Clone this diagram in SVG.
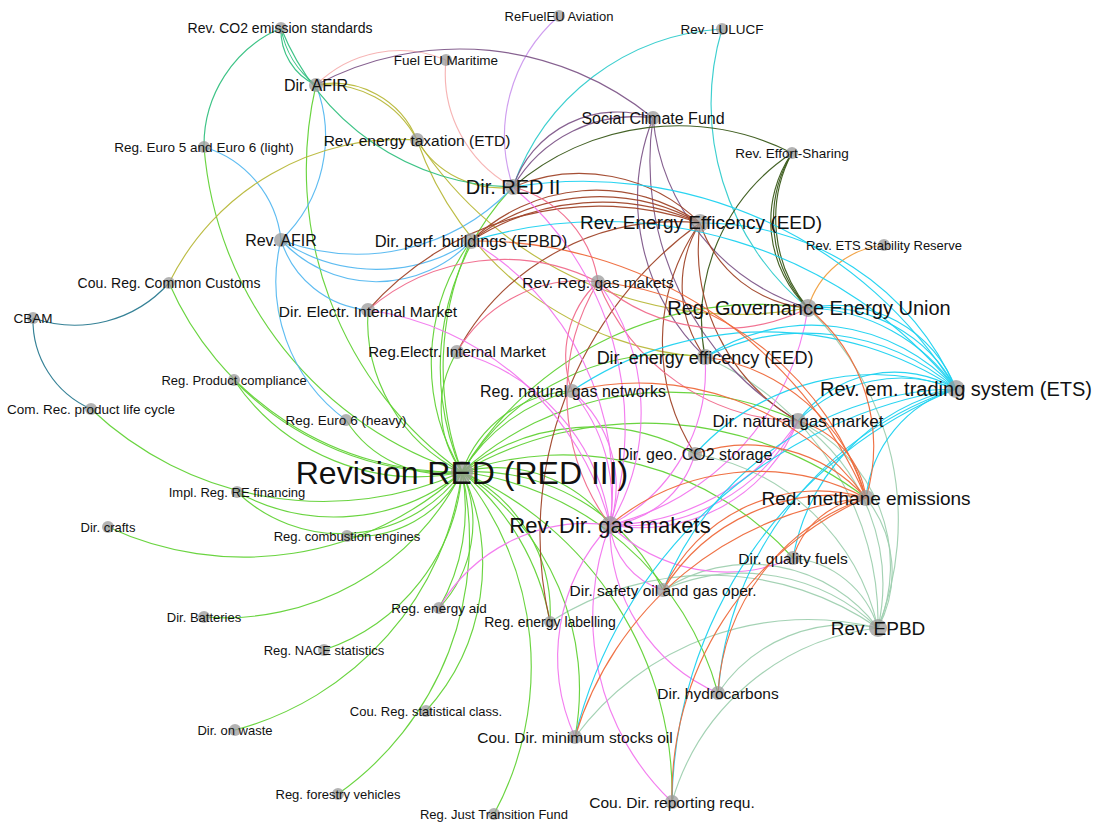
<svg xmlns="http://www.w3.org/2000/svg" width="1094" height="822" viewBox="0 0 1094 822">
<style>
.e path{fill:none;stroke-width:1.15;stroke-opacity:0.95}
.g{stroke:#62d236}.b{stroke:#55b8f0}.o{stroke:#b8b83a}.t{stroke:#33c080}.p{stroke:#f5b0b0}.v{stroke:#cc99ee}.l{stroke:#33cccc}.u{stroke:#80588a}.d{stroke:#3a5a1a}.s{stroke:#f0a040}.c{stroke:#2a7a90}.r{stroke:#a0462a}.k{stroke:#f06c8c}.m{stroke:#f277ee}.y{stroke:#1ed2f0}.f{stroke:#ee6a3c}.h{stroke:#9fd0b0}
.n circle{fill:#999;fill-opacity:0.75}
.n text{font-family:"Liberation Sans",Arial,sans-serif;fill:#111;text-anchor:middle}
</style>
<rect width="1094" height="822" fill="#fff"/>
<g id="connectors" class="e">
<g class="h">
<path d="M663 590A196 196 0 0 1 878 628"/><path d="M663 590A160 160 0 0 1 878 628"/>
<path d="M793 558A99 99 0 0 1 878 628"/>
<path d="M798 421A200 200 0 0 1 878 628"/><path d="M798 421A160 160 0 0 1 878 628"/>
<path d="M808 308A295 295 0 0 1 878 628"/>
<path d="M705 357A289 289 0 0 1 878 628"/>
<path d="M695 454A227 227 0 0 1 878 628"/>
<path d="M550 622A295 295 0 0 1 878 628"/>
<path d="M575 737A290 290 0 0 1 878 628"/>
<path d="M718 693A155 155 0 0 1 878 628"/>
<path d="M672 802A243 243 0 0 1 878 628"/>
<path d="M866 498A118 118 0 0 1 878 628"/>
</g>
<g class="g">
<path d="M462 472A372 372 0 0 1 316 85"/>
<path d="M462 472A373 373 0 0 1 204 147"/>
<path d="M462 472A314 314 0 0 1 169 283"/>
<path d="M462 472A221 221 0 0 1 234 380"/><path d="M462 472A300 300 0 0 1 234 380"/>
<path d="M462 472A339 339 0 0 1 91 409"/>
<path d="M462 472A114 114 0 0 1 346 420"/>
<path d="M462 472A169 169 0 0 1 368 310"/>
<path d="M462 472A108 108 0 0 1 457 352"/>
<path d="M462 472A261 261 0 0 1 513 187"/>
<path d="M462 472A208 208 0 0 1 471 241"/><path d="M462 472A300 300 0 0 1 471 241"/>
<path d="M462 472A203 203 0 0 1 237 492"/><path d="M462 472A150 150 0 0 1 237 492"/>
<path d="M462 472A322 322 0 0 1 108 527"/>
<path d="M462 472A118 118 0 0 1 347 536"/>
<path d="M462 472A266 266 0 0 1 204 617"/>
<path d="M462 472A124 124 0 0 1 439 608"/><path d="M462 472A200 200 0 0 1 439 608"/>
<path d="M462 472A203 203 0 0 1 324 650"/>
<path d="M462 472A309 309 0 0 1 235 730"/>
<path d="M462 472A218 218 0 0 1 426 711"/>
<path d="M462 472A311 311 0 0 1 338 794"/>
<path d="M462 472A309 309 0 0 1 494 814"/>
<path d="M462 472A352 352 0 0 1 672 802"/>
<path d="M462 472A304 304 0 0 1 718 693"/>
<path d="M462 472A210 210 0 0 1 663 590"/>
<path d="M462 472A259 259 0 0 1 575 737"/>
<path d="M462 472A156 156 0 0 1 550 622"/><path d="M462 472A250 250 0 0 1 550 622"/>
<path d="M462 472A141 141 0 0 1 610 525"/>
<path d="M462 472A308 308 0 0 1 793 558"/>
<path d="M462 472A123 123 0 0 1 572 391"/><path d="M462 472A180 180 0 0 1 572 391"/>
<path d="M462 472A345 345 0 0 1 808 308"/>
<path d="M462 472A242 242 0 0 1 705 357"/>
<path d="M462 472A306 306 0 0 1 798 421"/>
<path d="M462 472A210 210 0 0 1 695 454"/>
<path d="M462 472A365 365 0 0 1 866 498"/>
</g>
<g class="b">
<path d="M316 85A143 143 0 0 1 281 240"/>
<path d="M204 147A109 109 0 0 1 281 240"/>
<path d="M346 420A172 172 0 0 1 281 240"/>
<path d="M471 241A171 171 0 0 1 281 240"/><path d="M471 241A130 130 0 0 1 281 240"/>
<path d="M368 310A100 100 0 0 1 281 240"/>
<path d="M513 187A214 214 0 0 1 281 240"/>
</g>
<g class="o">
<path d="M316 85A103 103 0 0 1 417 140"/><path d="M316 85A90 90 0 0 1 417 140"/>
<path d="M169 283A258 258 0 0 1 417 140"/>
<path d="M513 187A96 96 0 0 1 417 140"/>
<path d="M808 308A383 383 0 0 1 417 140"/>
<path d="M705 357A325 325 0 0 1 417 140"/>
</g>
<g class="t">
<path d="M316 85A60 60 0 0 1 281 28"/><path d="M316 85A90 90 0 0 1 281 28"/>
<path d="M204 147A128 128 0 0 1 281 28"/>
<path d="M513 187A253 253 0 0 1 281 28"/>
</g>
<g class="p">
<path d="M316 85A119 119 0 0 1 446 60"/>
<path d="M513 187A129 129 0 0 1 446 60"/>
</g>
<path class="v" d="M513 187A159 159 0 0 1 559 16"/>
<g class="l">
<path d="M513 187A236 236 0 0 1 722 29"/>
<path d="M808 308A263 263 0 0 1 722 29"/>
</g>
<g class="u">
<path d="M316 85A305 305 0 0 1 653 118"/>
<path d="M513 187A140 140 0 0 1 653 118"/><path d="M513 187A110 110 0 0 1 653 118"/>
<path d="M705 357A220 220 0 0 1 653 118"/>
<path d="M798 421A302 302 0 0 1 653 118"/>
<path d="M808 308A221 221 0 0 1 653 118"/>
</g>
<g class="d">
<path d="M808 308A140 140 0 0 1 792 153"/><path d="M808 308A120 120 0 0 1 792 153"/><path d="M808 308A130 130 0 0 1 792 153"/>
<path d="M513 187A253 253 0 0 1 792 153"/>
<path d="M705 357A200 200 0 0 1 792 153"/>
</g>
<path class="s" d="M808 308A89 89 0 0 1 884 245"/>
<g class="c">
<path d="M169 283A126 126 0 0 1 33 318"/>
<path d="M91 409A97 97 0 0 1 33 318"/>
</g>
<g class="r">
<path d="M471 241A207 207 0 0 1 700 223"/><path d="M471 241A180 180 0 0 1 700 223"/><path d="M471 241A240 240 0 0 1 700 223"/>
<path d="M513 187A171 171 0 0 1 700 223"/>
<path d="M368 310A309 309 0 0 1 700 223"/>
<path d="M457 352A248 248 0 0 1 700 223"/>
<path d="M550 622A384 384 0 0 1 700 223"/>
<path d="M695 454A208 208 0 0 1 700 223"/>
<path d="M798 421A199 199 0 0 1 700 223"/>
<path d="M808 308A124 124 0 0 1 700 223"/>
<path d="M705 357A121 121 0 0 1 700 223"/>
</g>
<g class="k">
<path d="M368 310A208 208 0 0 1 598 282"/>
<path d="M457 352A142 142 0 0 1 598 282"/>
<path d="M808 308A190 190 0 0 1 598 282"/>
<path d="M798 421A219 219 0 0 1 598 282"/>
<path d="M610 525A219 219 0 0 1 598 282"/>
<path d="M572 391A101 101 0 0 1 598 282"/>
<path d="M513 187A115 115 0 0 1 598 282"/>
</g>
<g class="m">
<path d="M368 310A291 291 0 0 1 610 525"/>
<path d="M457 352A208 208 0 0 1 610 525"/>
<path d="M572 391A125 125 0 0 1 610 525"/><path d="M572 391A170 170 0 0 1 610 525"/>
<path d="M471 241A285 285 0 0 1 610 525"/>
<path d="M513 187A316 316 0 0 1 610 525"/>
<path d="M598 282A219 219 0 0 1 610 525"/>
<path d="M808 308A264 264 0 0 1 610 525"/>
<path d="M705 357A174 174 0 0 1 610 525"/>
<path d="M798 421A193 193 0 0 1 610 525"/><path d="M798 421A170 170 0 0 1 610 525"/><path d="M798 421A230 230 0 0 1 610 525"/>
<path d="M695 454A100 100 0 0 1 610 525"/>
<path d="M439 608A171 171 0 0 1 610 525"/>
<path d="M793 558A167 167 0 0 1 610 525"/>
<path d="M718 693A180 180 0 0 1 610 525"/>
<path d="M575 737A193 193 0 0 1 610 525"/>
<path d="M672 802A255 255 0 0 1 610 525"/>
<path d="M663 590A75 75 0 0 1 610 525"/>
</g>
<g class="y">
<path d="M513 187A438 438 0 0 1 956 389"/>
<path d="M700 223A275 275 0 0 1 956 389"/>
<path d="M471 241A456 456 0 0 1 956 389"/>
<path d="M808 308A152 152 0 0 1 956 389"/><path d="M808 308A130 130 0 0 1 956 389"/><path d="M808 308A185 185 0 0 1 956 389"/>
<path d="M705 357A228 228 0 0 1 956 389"/><path d="M705 357A195 195 0 0 1 956 389"/>
<path d="M572 391A346 346 0 0 1 956 389"/>
<path d="M798 421A145 145 0 0 1 956 389"/><path d="M798 421A120 120 0 0 1 956 389"/>
<path d="M695 454A242 242 0 0 1 956 389"/>
<path d="M663 590A320 320 0 0 1 956 389"/>
<path d="M575 737A464 464 0 0 1 956 389"/>
<path d="M672 802A451 451 0 0 1 956 389"/>
<path d="M718 693A347 347 0 0 1 956 389"/>
<path d="M793 558A211 211 0 0 1 956 389"/>
<path d="M866 498A127 127 0 0 1 956 389"/>
</g>
<g class="f">
<path d="M572 391A282 282 0 0 1 866 498"/>
<path d="M695 454A159 159 0 0 1 866 498"/>
<path d="M705 357A193 193 0 0 1 866 498"/>
<path d="M808 308A179 179 0 0 1 866 498"/>
<path d="M798 421A92 92 0 0 1 866 498"/>
<path d="M598 282A310 310 0 0 1 866 498"/>
<path d="M471 241A424 424 0 0 1 866 498"/>
<path d="M663 590A200 200 0 0 1 866 498"/><path d="M663 590A170 170 0 0 1 866 498"/>
<path d="M575 737A339 339 0 0 1 866 498"/>
<path d="M672 802A325 325 0 0 1 866 498"/>
<path d="M718 693A220 220 0 0 1 866 498"/>
<path d="M793 558A85 85 0 0 1 866 498"/>
<path d="M610 525A232 232 0 0 1 866 498"/>
</g>
</g>
<g id="nodes" class="n">
<g id="n-co2"><circle cx="281" cy="28" r="6"/><text x="280" y="33" font-size="14">Rev. CO2 emission standards</text></g>
<g id="n-refuel"><circle cx="559" cy="16" r="6"/><text x="559" y="20.7" font-size="13">ReFuelEU Aviation</text></g>
<g id="n-lulucf"><circle cx="722" cy="29" r="6"/><text x="722" y="33.9" font-size="13.5">Rev. LULUCF</text></g>
<g id="n-fueleu"><circle cx="446" cy="60" r="6"/><text x="446" y="64.9" font-size="13.5">Fuel EU Maritime</text></g>
<g id="n-afir"><circle cx="316" cy="85" r="7"/><text x="316" y="90.8" font-size="16">Dir. AFIR</text></g>
<g id="n-scf"><circle cx="653" cy="118" r="7"/><text x="653" y="123.8" font-size="16">Social Climate Fund</text></g>
<g id="n-etd"><circle cx="417" cy="140" r="7"/><text x="417" y="145.6" font-size="15.5">Rev. energy taxation (ETD)</text></g>
<g id="n-euro5"><circle cx="204" cy="147" r="6"/><text x="204" y="151.9" font-size="13.5">Reg. Euro 5 and Euro 6 (light)</text></g>
<g id="n-effort"><circle cx="792" cy="153" r="6"/><text x="792" y="157.9" font-size="13.5">Rev. Effort-Sharing</text></g>
<g id="n-red2"><circle cx="513" cy="187" r="8"/><text x="513" y="194.2" font-size="20">Dir. RED II</text></g>
<g id="n-reveed"><circle cx="700" cy="223" r="9"/><text x="701" y="228.8" font-size="19">Rev. Energy Efficency (EED)</text></g>
<g id="n-epbd-dir"><circle cx="471" cy="241" r="8"/><text x="471" y="247" font-size="16.5">Dir. perf. buildings (EPBD)</text></g>
<g id="n-revafir"><circle cx="281" cy="240" r="7"/><text x="281" y="245.8" font-size="16">Rev. AFIR</text></g>
<g id="n-msr"><circle cx="884" cy="245" r="6"/><text x="884" y="249.7" font-size="13">Rev. ETS Stability Reserve</text></g>
<g id="n-revreg"><circle cx="598" cy="282" r="7"/><text x="598" y="287.6" font-size="15.5">Rev. Reg. gas makets</text></g>
<g id="n-customs"><circle cx="169" cy="283" r="6"/><text x="169" y="288" font-size="14">Cou. Reg. Common Customs</text></g>
<g id="n-cbam"><circle cx="33" cy="318" r="6"/><text x="33" y="322.9" font-size="13.5">CBAM</text></g>
<g id="n-direlec"><circle cx="368" cy="310" r="7"/><text x="368" y="316.6" font-size="15.5">Dir. Electr. Internal Market</text></g>
<g id="n-gov"><circle cx="808" cy="308" r="9"/><text x="809" y="315.2" font-size="20">Reg. Governance Energy Union</text></g>
<g id="n-regelec"><circle cx="457" cy="352" r="7"/><text x="457" y="357.4" font-size="15">Reg.Electr. Internal Market</text></g>
<g id="n-dee"><circle cx="705" cy="357" r="8"/><text x="705" y="363.5" font-size="18">Dir. energy efficency (EED)</text></g>
<g id="n-product"><circle cx="234" cy="380" r="6"/><text x="234" y="384.7" font-size="13">Reg. Product compliance</text></g>
<g id="n-ets"><circle cx="956" cy="389" r="9"/><text x="956" y="396.2" font-size="20">Rev. em. trading system (ETS)</text></g>
<g id="n-ngn"><circle cx="572" cy="391" r="7"/><text x="573" y="396.8" font-size="16">Reg. natural gas networks</text></g>
<g id="n-lifecycle"><circle cx="91" cy="409" r="6"/><text x="91" y="413.9" font-size="13.5">Com. Rec. product life cycle</text></g>
<g id="n-euro6"><circle cx="346" cy="420" r="6"/><text x="346" y="424.9" font-size="13.5">Reg. Euro 6 (heavy)</text></g>
<g id="n-ngm"><circle cx="798" cy="421" r="8"/><text x="798" y="427.1" font-size="17">Dir. natural gas market</text></g>
<g id="n-ccs"><circle cx="695" cy="454" r="7"/><text x="695" y="459.8" font-size="16">Dir. geo. CO2 storage</text></g>
<g id="n-red3"><circle cx="462" cy="472" r="11"/><text x="462" y="483.5" font-size="32">Revision RED (RED III)</text></g>
<g id="n-refin"><circle cx="237" cy="492" r="6"/><text x="237" y="496.7" font-size="13">Impl. Reg. RE financing</text></g>
<g id="n-methane"><circle cx="866" cy="498" r="8"/><text x="866" y="504.8" font-size="19">Red. methane emissions</text></g>
<g id="n-gas"><circle cx="610" cy="525" r="9"/><text x="610" y="532.9" font-size="22">Rev. Dir. gas makets</text></g>
<g id="n-crafts"><circle cx="108" cy="527" r="6"/><text x="108" y="531.7" font-size="13">Dir. crafts</text></g>
<g id="n-combustion"><circle cx="347" cy="536" r="6"/><text x="347" y="540.7" font-size="13">Reg. combustion engines</text></g>
<g id="n-quality"><circle cx="793" cy="558" r="7"/><text x="793" y="563.6" font-size="15.5">Dir. quality fuels</text></g>
<g id="n-safety"><circle cx="663" cy="590" r="7"/><text x="663" y="595.6" font-size="15.5">Dir. safety oil and gas oper.</text></g>
<g id="n-batteries"><circle cx="204" cy="617" r="6"/><text x="204" y="621.7" font-size="13">Dir. Batteries</text></g>
<g id="n-aid"><circle cx="439" cy="608" r="6"/><text x="439" y="612.9" font-size="13.5">Reg. energy aid</text></g>
<g id="n-labelling"><circle cx="550" cy="622" r="6"/><text x="550" y="627" font-size="14">Reg. energy labelling</text></g>
<g id="n-revepbd"><circle cx="878" cy="628" r="9"/><text x="878" y="634.8" font-size="19">Rev. EPBD</text></g>
<g id="n-nace"><circle cx="324" cy="650" r="6"/><text x="324" y="654.7" font-size="13">Reg. NACE statistics</text></g>
<g id="n-hydro"><circle cx="718" cy="693" r="7"/><text x="718" y="698.6" font-size="15.5">Dir. hydrocarbons</text></g>
<g id="n-waste"><circle cx="235" cy="730" r="6"/><text x="235" y="734.7" font-size="13">Dir. on waste</text></g>
<g id="n-statclass"><circle cx="426" cy="711" r="6"/><text x="426" y="715.7" font-size="13">Cou. Reg. statistical class.</text></g>
<g id="n-stocks"><circle cx="575" cy="737" r="7"/><text x="575" y="742.6" font-size="15.5">Cou. Dir. minimum stocks oil</text></g>
<g id="n-forestry"><circle cx="338" cy="794" r="6"/><text x="338" y="798.7" font-size="13">Reg. forestry vehicles</text></g>
<g id="n-jtf"><circle cx="494" cy="814" r="6"/><text x="494" y="818.7" font-size="13">Reg. Just Transition Fund</text></g>
<g id="n-reporting"><circle cx="672" cy="802" r="7"/><text x="672" y="807.6" font-size="15.5">Cou. Dir. reporting requ.</text></g>
</g>
</svg>
